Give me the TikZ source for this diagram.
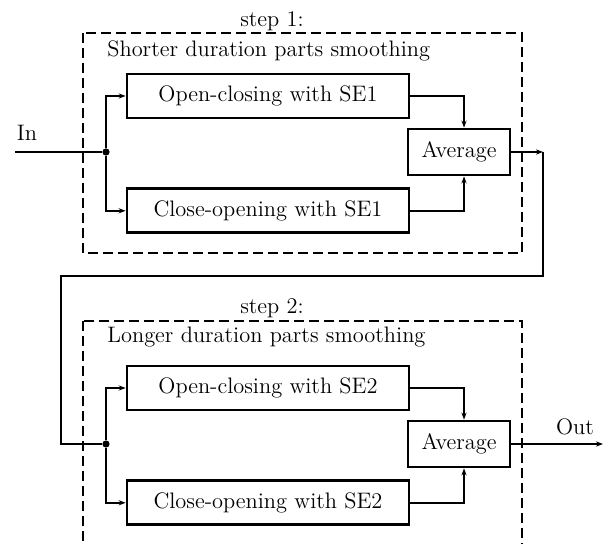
\documentclass[tikz,border=0pt]{standalone}
\usepackage{tikz}
\usetikzlibrary{arrows.meta, positioning, calc}

\begin{document}
\begin{tikzpicture}[
      x=0.5pt, y=-0.5pt,
      font=\fontsize{11.2}{13}\selectfont,
      box/.style={rectangle, draw=black, line width=1.4pt,
                  minimum width=141pt, minimum height=22pt, inner sep=2pt},
      avgbox/.style={box, minimum width=51pt, minimum height=23pt},
      stage/.style={draw=black, line width=0.9pt, dash pattern=on 5pt off 2.5pt},
      wire/.style={line width=0.9pt},
      arr/.style={-{Stealth[length=3.5pt, width=2.6pt]}, line width=0.9pt},
      dot/.style={circle, fill=black, inner sep=0pt, minimum size=3.6pt}
    ]
    \useasboundingbox (0,0) rectangle (604,544);
    \clip (0,0) rectangle (604,544);

    % step 1
    \draw[stage] (83,33) rectangle (522,253);
    \node (step1) at (272,21) {step 1:};
    \node[anchor=west, inner sep=0pt] (title1) at (107,51) {Shorter duration parts smoothing};
    \node[box] (open1) at (268,96) {Open-closing with SE1};
    \node[box, below=34pt of open1] (close1) {Close-opening with SE1};
    \node[avgbox] (avg1) at (459,152) {Average};
    \node[dot] (j1) at (106,152) {};
    \coordinate (src) at (15,152);
    \node (in) at (27,133) {In};
    \coordinate (turn1) at (543,152);
    \coordinate (back) at (61,276);

    % step 2
    \draw[stage] (83,321) rectangle (522,600);
    \node (step2) at (272,308) {step 2:};
    \node[anchor=west, inner sep=0pt] (title2) at (107,337) {Longer duration parts smoothing};
    \node[box] (open2) at (268,388) {Open-closing with SE2};
    \node[box, below=34pt of open2] (close2) {Close-opening with SE2};
    \node[avgbox] (avg2) at (459,444) {Average};
    \node[dot] (j2) at (106,444) {};
    \coordinate (sink) at (603,444);
    \node (out) at (575,427) {Out};

    \draw[wire] (src) -- (j1);
    \draw[arr] (j1) |- (open1.west);
    \draw[arr] (j1) |- (close1.west);
    \draw[arr] (open1.east) -| ([xshift=2.5pt]avg1.north);
    \draw[arr] (close1.east) -| ([xshift=2.5pt]avg1.south);
    \draw[arr] (avg1.east) -- (turn1);
    \draw[wire] (turn1) |- (back) |- (j2);
    \draw[arr] (j2) |- (open2.west);
    \draw[arr] (j2) |- (close2.west);
    \draw[arr] (open2.east) -| ([xshift=2.5pt]avg2.north);
    \draw[arr] (close2.east) -| ([xshift=2.5pt]avg2.south);
    \draw[arr] (avg2.east) -- (sink);
  \end{tikzpicture}
\end{document}
